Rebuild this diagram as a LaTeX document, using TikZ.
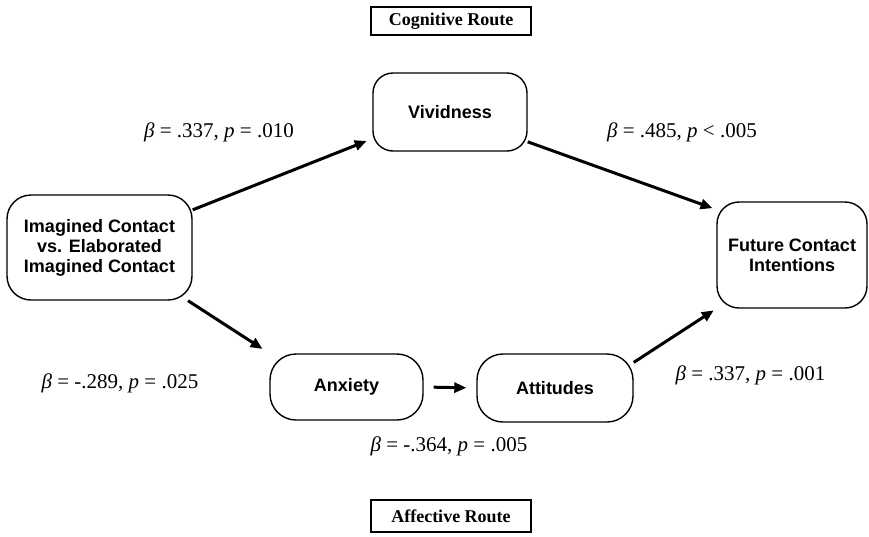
\documentclass[tikz,border=0pt]{standalone}
\usepackage{fontspec}
\setmainfont{Liberation Serif}
\newfontfamily\boxfont{Liberation Sans}
\usetikzlibrary{arrows.meta}
\tikzset{
  varbox/.style={draw, line width=1.4pt, align=center, inner sep=0pt,
    font=\boxfont\bfseries\fontsize{18}{20}\selectfont},
  routebox/.style={draw, line width=1.5pt, minimum width=160pt, minimum height=28pt, inner sep=0pt,
    font=\bfseries\fontsize{18}{20}\selectfont},
  coef/.style={font=\fontsize{21}{24}\selectfont, inner sep=0pt},
  arr/.style={line width=3pt, -{Triangle[length=12pt,width=10pt]}}
}
\begin{document}
\begin{tikzpicture}[x=1pt,y=-1pt]
\useasboundingbox[fill=white] (0,0) rectangle (869,536);
% route boxes
\node[routebox] (cog) at (451,21) {Cognitive Route};
\node[routebox, minimum height=32pt] (aff) at (451,516) {Affective Route};
% variable boxes
\node[varbox, rounded corners=24pt, minimum width=185pt, minimum height=105pt] (img) at (99.5,247.5)
  {Imagined Contact\\vs. Elaborated\\Imagined Contact};
\node[varbox, rounded corners=20pt, minimum width=154pt, minimum height=78pt] (viv) at (450,112) {Vividness};
\node[varbox, rounded corners=22pt, minimum width=150pt, minimum height=106pt] (fut) at (792,255)
  {Future Contact\\Intentions};
\node[varbox, rounded corners=26pt, minimum width=153pt, minimum height=66pt] (anx) at (346.5,387) {Anxiety};
\node[varbox, rounded corners=26pt, minimum width=156pt, minimum height=68pt] (att) at (555,388) {Attitudes};
% arrows
\draw[arr, shorten >=6pt] (img.22) -- (viv.199);
\draw[arr, shorten >=4pt] (viv.-21) -- (fut.149);
\draw[arr, shorten >=8pt] (img.-31.5) -- (anx.north west);
\draw[arr, shorten <=10pt, shorten >=10pt] (anx.east) -- (att.west);
\draw[arr, shorten >=3pt] (att.18) -- (fut.south west);
% coefficients
\node[coef] (c1) at (219,132) {\textit{β} = .337, \textit{p} = .010};
\node[coef] (c2) at (682,132) {\textit{β} = .485, \textit{p} < .005};
\node[coef] (c3) at (120,383) {\textit{β} = -.289, \textit{p} = .025};
\node[coef] (c4) at (750.5,375) {\textit{β} = .337, \textit{p} = .001};
\node[coef] (c5) at (449,446) {\textit{β} = -.364, \textit{p} = .005};
\end{tikzpicture}
\end{document}
